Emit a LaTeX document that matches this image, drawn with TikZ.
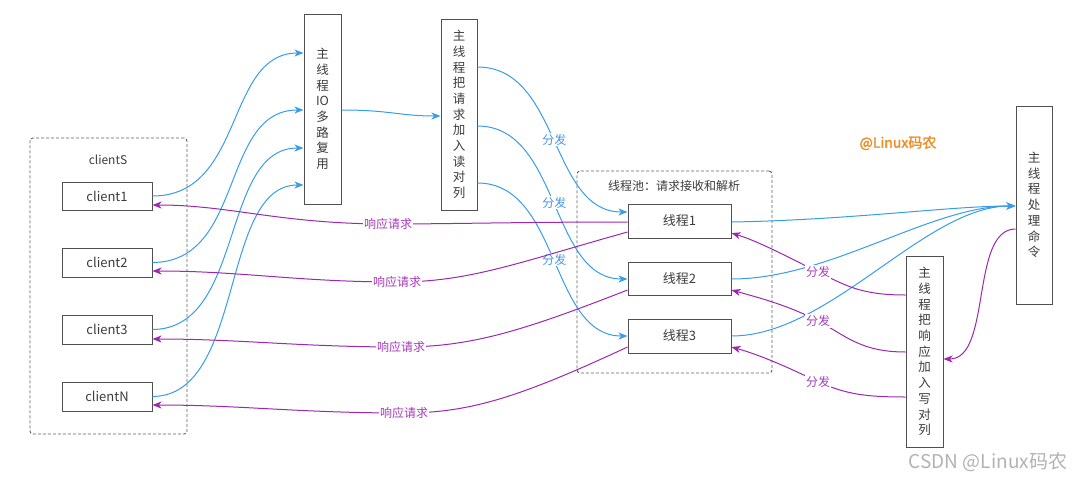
\documentclass[tikz,border=0pt]{standalone}
\usepackage{fontspec}
\setmainfont{Noto Sans CJK SC}[AutoFakeBold=2]
\usetikzlibrary{arrows.meta,calc}
\definecolor{lnblue}{RGB}{56,156,232}
\definecolor{lnpurple}{RGB}{156,39,176}
\definecolor{lbblue}{RGB}{70,150,225}
\definecolor{lbpurple}{RGB}{165,60,185}
\definecolor{boxline}{RGB}{80,80,80}
\definecolor{txt}{RGB}{60,60,60}
\definecolor{brand}{RGB}{240,140,40}
\begin{document}
\begin{tikzpicture}[x=1pt,y=-1pt,
 box/.style={draw=boxline,line width=1pt,fill=white,text=txt,font=\fontsize{13}{15}\selectfont,inner sep=0pt},
 vbox/.style={box,align=center,font=\fontsize{12.5}{15.7}\selectfont},
 group/.style={draw=boxline!90,line width=0.9pt,rounded corners=3pt,dash pattern=on 3pt off 2pt},
 bline/.style={draw=lnblue,line width=1pt},
 pline/.style={draw=lnpurple,line width=1pt},
 tip/.style={-{Stealth[length=9pt,width=7pt,inset=2.5pt]}},
 lab/.style={fill=white,inner sep=1pt,font=\fontsize{12}{14}\selectfont},
 blab/.style={lab,text=lbblue},
 plab/.style={lab,text=lbpurple},
 grp/.style={text=txt,font=\fontsize{12}{14}\selectfont}
]
\useasboundingbox (0,0) rectangle (1080,480);

% groups
\node[group,minimum width=157pt,minimum height=296pt] (clients) at (108.5,286) {};
\node[grp] (clientsl) at (108,160) {clientS};
\node[group,minimum width=195pt,minimum height=202pt] (pool) at (674.5,272) {};
\node[grp] (pooll) at (674,186) {线程池：请求接收和解析};

% clients
\node[box,minimum width=90pt,minimum height=28pt] (c1) at (107,196) {client1};
\node[box,minimum width=90pt,minimum height=29pt] (c2) at (107,262.5) {client2};
\node[box,minimum width=90pt,minimum height=29pt] (c3) at (107,329.5) {client3};
\node[box,minimum width=90pt,minimum height=29pt] (cN) at (107,396.5) {clientN};

% vertical boxes
\node[vbox,minimum width=37pt,minimum height=190pt] (io) at (322.5,109) {主\\线\\程\\IO\\多\\路\\复\\用};
\node[vbox,minimum width=36pt,minimum height=191pt] (rq) at (459,114.5) {主\\线\\程\\把\\请\\求\\加\\入\\读\\对\\列};
\node[vbox,minimum width=36pt,minimum height=198pt] (cmd) at (1034,205) {主\\线\\程\\处\\理\\命\\令};
\node[vbox,minimum width=37pt,minimum height=191pt] (wq) at (924.5,351.5) {主\\线\\程\\把\\响\\应\\加\\入\\写\\对\\列};

% threads
\node[box,minimum width=103pt,minimum height=34pt] (t1) at (679.5,221) {线程1};
\node[box,minimum width=103pt,minimum height=33pt] (t2) at (679.5,278.5) {线程2};
\node[box,minimum width=103pt,minimum height=34pt] (t3) at (679.5,336) {线程3};

% texts
\node[text=brand,font=\fontsize{14}{16}\selectfont\bfseries] (brand) at (898,143) {@Linux码农};
\node[text=black!30,font=\fontsize{19}{21}\selectfont] (wm) at (988,462) {CSDN @Linux码农};

% clients -> IO
\draw[bline,tip] (c1.east) .. controls (245,196) and (225,53) .. ($(io.west)+(0,-56)$);
\draw[bline,tip] (c2.east) .. controls (245,262) and (220,110) .. ($(io.west)+(0,1)$);
\draw[bline,tip] (c3.east) .. controls (245,329) and (220,148) .. ($(io.west)+(0,39)$);
\draw[bline,tip] (cN.east) .. controls (245,396) and (220,185) .. ($(io.west)+(0,76)$);

% IO -> read queue
\draw[bline,tip] ($(io.east)+(0,1)$) .. controls (390,110) and (400,116) .. ($(rq.west)+(0,1.5)$);

% read queue -> threads
\draw[bline,tip] ($(rq.east)+(0,-47.5)$) .. controls (560,67) and (550,212) .. node[blab,pos=0.5] {分发} ($(t1.west)+(0,-9)$);
\draw[bline,tip] ($(rq.east)+(0,11.5)$) .. controls (560,126) and (550,279) .. node[blab,pos=0.5] {分发} ($(t2.west)+(0,0.5)$);
\draw[bline,tip] ($(rq.east)+(0,68.5)$) .. controls (560,183) and (550,336) .. node[blab,pos=0.5] {分发} ($(t3.west)$);

% threads -> command
\draw[bline,tip] ($(t1.east)+(0,1)$) .. controls (850,220) and (950,206) .. ($(cmd.west)+(0,1)$);
\draw[bline,tip] ($(t2.east)+(0,0.5)$) .. controls (830,279) and (930,206) .. ($(cmd.west)+(0,1)$);
\draw[bline,tip] ($(t3.east)$) .. controls (830,336) and (925,206) .. ($(cmd.west)+(0,1)$);

% threads -> clients (responses)
\draw[pline,tip] ($(t1.west)+(0,1)$) .. controls (520,222) and (450,224) .. (388,224) node[plab] {响应请求} .. controls (280,224) and (230,205) .. ($(c1.east)+(0,9)$);
\draw[pline,tip] ($(t1.west)+(0,11)$) .. controls (520,262) and (470,282) .. (397,282) node[plab] {响应请求} .. controls (300,282) and (240,271) .. ($(c2.east)+(0,8.5)$);
\draw[pline,tip] ($(t2.west)+(0,11.5)$) .. controls (520,332) and (470,347) .. (401,347) node[plab] {响应请求} .. controls (300,347) and (240,339) .. ($(c3.east)+(0,9.5)$);
\draw[pline,tip] ($(t3.west)+(0,11)$) .. controls (520,397) and (470,413) .. (404,413) node[plab] {响应请求} .. controls (300,413) and (240,405) .. ($(cN.east)+(0,8.5)$);

% write queue -> threads
\draw[pline,tip] ($(wq.west)+(0,-56.5)$) .. controls (860,295) and (845,285) .. (818,272) node[plab] {分发} .. controls (790,258) and (760,242) .. ($(t1.east)+(0,12)$);
\draw[pline,tip] ($(wq.west)+(0,0.5)$) .. controls (860,352) and (845,335) .. (818,321) node[plab] {分发} .. controls (790,306) and (760,298) .. ($(t2.east)+(0,11.5)$);
\draw[pline,tip] ($(wq.west)+(0,45.5)$) .. controls (860,397) and (845,393) .. (818,382) node[plab] {分发} .. controls (790,368) and (760,355) .. ($(t3.east)+(0,11)$);

% command -> write queue
\draw[pline,tip] ($(cmd.west)+(0,24)$) .. controls (970,229) and (992,359) .. ($(wq.east)+(0,7.5)$);
\end{tikzpicture}
\end{document}
